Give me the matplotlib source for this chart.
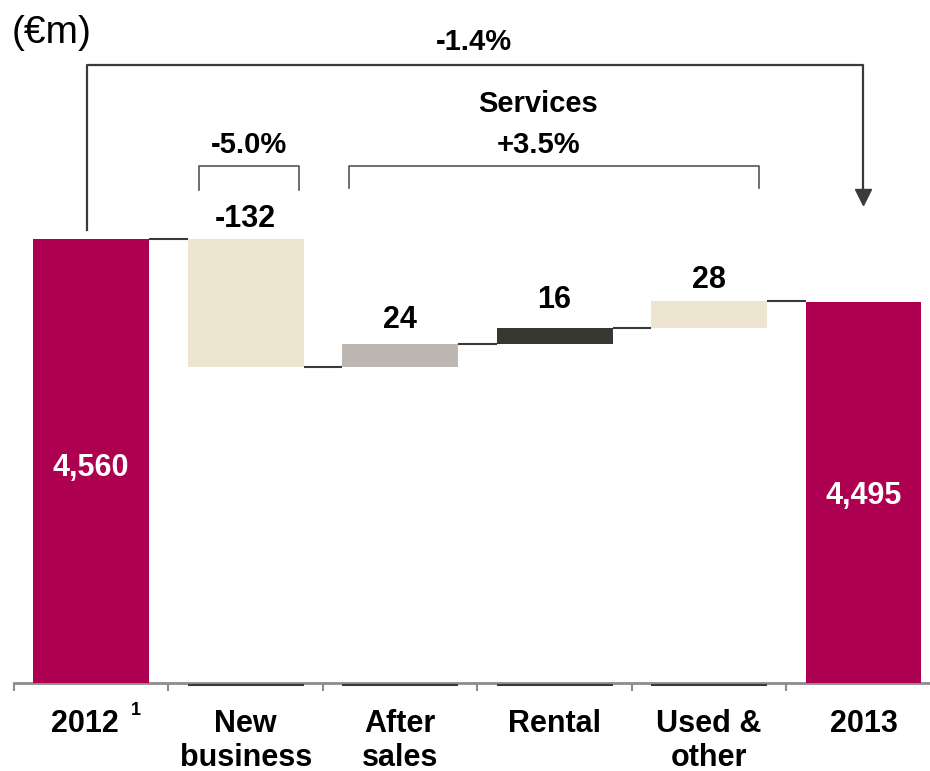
import matplotlib
matplotlib.use('Agg')
import matplotlib.pyplot as plt
import matplotlib.transforms as mtransforms
import numpy as np

plt.rcParams['font.family'] = ['Liberation Sans', 'DejaVu Sans']

categories = ['2012', 'New\nbusiness', 'After\nsales', 'Rental', 'Used &\nother', '2013']
start_total = 4560
deltas = [-132, 24, 16, 28]
end_total = 4495
delta_labels = ['-132', '24', '16', '28']
total_labels = ['4,560', '4,495']
pct_total = '-1.4%'
pct_new = '-5.0%'
pct_services = '+3.5%'

crimson = '#AE0050'
step_colors = ['#EDE5CF', '#BEB6B0', '#383833', '#EDE5CF']
line_col = '#3a3a3a'
axis_col = '#8c8c8c'

y0 = 4102.3          # value at the axis line
k = 0.97             # pixels per €m
W, H = 930, 771
fig = plt.figure(figsize=(W / 100, H / 100), dpi=100)
ax = fig.add_axes([14 / W, (H - 683) / H, (W - 14) / W, 683 / H])

x = np.arange(len(categories))
bw = 0.75

# running totals for the waterfall steps
tops = [start_total]
for d in deltas:
    tops.append(tops[-1] + d)

ax.bar(x[0], start_total - y0, bottom=y0, width=bw, color=crimson, zorder=3)
ax.bar(x[-1], end_total - y0, bottom=y0, width=bw, color=crimson, zorder=3)
for i, d in enumerate(deltas):
    lo = min(tops[i], tops[i + 1])
    ax.bar(x[i + 1], abs(d), bottom=lo, width=bw, color=step_colors[i], zorder=3)

# connectors between bars
for i in range(len(categories) - 1):
    ax.plot([x[i] + bw / 2, x[i + 1] - bw / 2], [tops[i], tops[i]],
            color=line_col, lw=1.5, solid_capstyle='butt', zorder=4)

# dark baseline under the floating steps
down = mtransforms.offset_copy(ax.transData, fig=fig, x=0, y=-2.5, units='dots')
for i in range(1, len(categories) - 1):
    ax.plot([x[i] - bw / 2, x[i] + bw / 2], [y0, y0], color=line_col, lw=1.5,
            solid_capstyle='butt', transform=down, clip_on=False, zorder=5)

# value labels
offsets = [5, 9, 13, 6]
for i, d in enumerate(deltas):
    top = max(tops[i], tops[i + 1])
    ax.annotate(delta_labels[i], (x[i + 1], top), xytext=(0, offsets[i]),
                textcoords='offset pixels', ha='center', va='bottom',
                fontsize=22, fontweight='bold', color='black')
ax.text(x[0], y0 + (683 - 468) / k, total_labels[0], ha='center', va='center',
        fontsize=22, fontweight='bold', color='white', zorder=5)
ax.text(x[-1], y0 + (683 - 496) / k, total_labels[1], ha='center', va='center',
        fontsize=22, fontweight='bold', color='white', zorder=5)


def py(p):
    return y0 + (683 - p) / k


def px(p):
    return (p - 91) / 154.5


# overall change bracket with arrow
ax.plot([px(87), px(87), px(863), px(863)], [py(230), py(65), py(65), py(192)],
        color=line_col, lw=1.6, clip_on=False)
ax.plot(px(863), py(197), marker='v', markersize=12, color=line_col, clip_on=False)
ax.text(px(474), py(42), pct_total, ha='center', va='center', fontsize=21, fontweight='bold')

# new business bracket
ax.plot([px(199), px(199), px(299), px(299)], [py(190), py(166), py(166), py(190)],
        color='#555555', lw=1.2)
ax.text(px(249), py(145), pct_new, ha='center', va='center', fontsize=21, fontweight='bold')

# services bracket
ax.plot([px(349), px(349), px(759), px(759)], [py(188), py(166), py(166), py(188)],
        color='#555555', lw=1.2)
ax.text(px(538), py(104), 'Services', ha='center', va='center', fontsize=21, fontweight='bold')
ax.text(px(538), py(145), pct_services, ha='center', va='center', fontsize=21, fontweight='bold')

fig.text(12 / W, (H - 33) / H, '(€m)', ha='left', va='center', fontsize=28)

# axis styling
for s in ['left', 'top', 'right']:
    ax.spines[s].set_visible(False)
ax.spines['bottom'].set_color(axis_col)
ax.spines['bottom'].set_linewidth(2)
ax.set_yticks([])
ax.set_xticks(x)
ax.set_xticklabels(categories, fontsize=22, fontweight='bold', linespacing=1.15)
ax.tick_params(axis='x', which='major', length=0, pad=19)
ax.set_xticks(np.arange(-0.5, len(categories), 1.0), minor=True)
ax.tick_params(axis='x', which='minor', length=6, width=1.5, color=axis_col)

# nudge "2012" left to make room for its footnote marker
first = ax.get_xticklabels()[0]
first.set_transform(first.get_transform()
                    + mtransforms.ScaledTranslation(-6 / 100, 0, fig.dpi_scale_trans))
ax.annotate('1', (x[0], y0), xytext=(45, -28), textcoords='offset pixels',
            ha='center', va='center', fontsize=13, fontweight='bold', annotation_clip=False)

ax.set_xlim(-0.5, (W - 91) / 154.5)
ax.set_ylim(y0, y0 + 683 / k)

fig.savefig('out.png', dpi=100)
